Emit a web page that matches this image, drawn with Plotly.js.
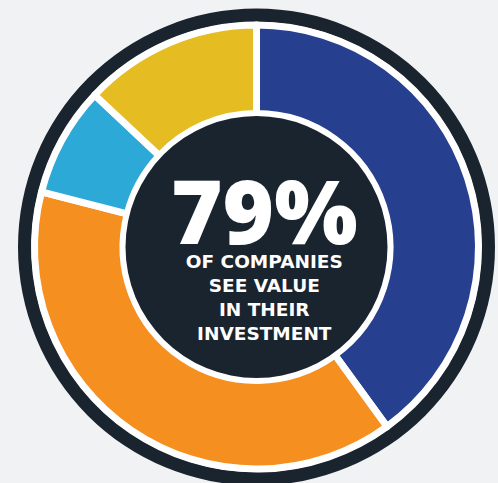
<!DOCTYPE html>
<html>
<head>
<meta charset="utf-8">
<script src="https://cdn.plot.ly/plotly-3.0.1.min.js"></script>
<style>html,body{margin:0;padding:0;background:#f1f2f4;}#chart{width:498px;height:483px;}</style>
</head>
<body>
<div id="chart"></div>
<script>
// Data
const labels = ["Segment A", "Segment B", "Segment C", "Segment D"];
const values = [40, 39, 8, 13];
const colors = ["#273f8f", "#f58f1f", "#2ca9d6", "#e5bc22"];
const headline = "79%";
const subline = ["OF COMPANIES", "SEE VALUE", "IN THEIR", "INVESTMENT"];

const W = 498, H = 483;
const cx = 256.5, cy = 247;
const px = x => x / W;
const py = y => 1 - y / H;
function circle(r, fill, layer) {
  return {type: "circle", xref: "paper", yref: "paper",
    x0: px(cx - r), x1: px(cx + r), y0: py(cy + r), y1: py(cy - r),
    fillcolor: fill, line: {width: 0}, layer: layer};
}
const rPie = 222;
const trace = {
  type: "pie", labels: labels, values: values, sort: false, direction: "clockwise",
  rotation: 0, hole: 0.601, textinfo: "none", hoverinfo: "none",
  marker: {colors: colors, line: {color: "#ffffff", width: 7}},
  domain: {x: [px(cx - rPie), px(cx + rPie)], y: [py(cy + rPie), py(cy - rPie)]},
  showlegend: false
};
const bigText = "<span style='font-family:Open Sans;font-size:88px;font-weight:800'>" + headline + "</span>";
const layout = {
  width: W, height: H, margin: {l: 0, r: 0, t: 0, b: 0},
  paper_bgcolor: "#f1f2f4", plot_bgcolor: "#f1f2f4", showlegend: false,
  shapes: [
    circle(238.5, "#1a242e", "below"),
    circle(225, "#ffffff", "below"),
    circle(131, "#1a242e", "above")
  ],
  annotations: [
    {xref: "paper", yref: "paper", x: px(264.5), y: py(246.5), xanchor: "center", yanchor: "middle",
     text: "<b>" + bigText + "<br>" + subline.join("<br>") + "</b>", showarrow: false,
     font: {family: "DejaVu Sans", size: 18.5, color: "#ffffff"}}
  ]
};
Plotly.newPlot("chart", [trace], layout, {displayModeBar: false, staticPlot: true});
</script>
</body>
</html>
